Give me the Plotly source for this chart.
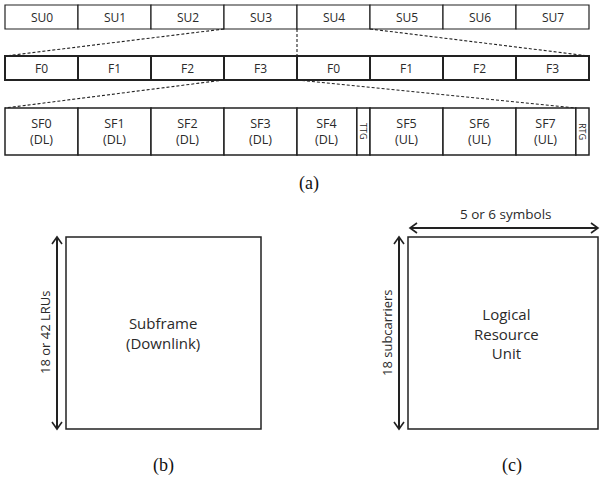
import plotly.graph_objects as go

# ---- content ----
su_labels = ["SU0", "SU1", "SU2", "SU3", "SU4", "SU5", "SU6", "SU7"]
frame_labels = ["F0", "F1", "F2", "F3", "F0", "F1", "F2", "F3"]
sf_labels = ["SF0<br>(DL)", "SF1<br>(DL)", "SF2<br>(DL)", "SF3<br>(DL)", "SF4<br>(DL)", "TTG",
             "SF5<br>(UL)", "SF6<br>(UL)", "SF7<br>(UL)", "RTG"]
sf_units = [1, 1, 1, 1, 0.82, 0.18, 1, 1, 0.82, 0.18]   # relative widths of subframe cells
gap_labels = ["TTG", "RTG"]
panel_b_text = "Subframe<br>(Downlink)"
panel_b_dim = "18 or 42 LRUs"
panel_c_text = "Logical<br>Resource<br>Unit"
panel_c_vdim = "18 subcarriers"
panel_c_hdim = "5 or 6 symbols"
captions = ["(a)", "(b)", "(c)"]

W, H = 600, 484
X0, CELL = 5, 73
LINE = "#222222"
FONT = "Open Sans"
TXT = "#2a2a2a"

fig = go.Figure()
shapes = []
ann = []

def row(labels, widths, y0, y1, lw, fsize):
    x = X0
    bounds = []
    for lab, w in zip(labels, widths):
        xa, xb = x, x + w * CELL
        shapes.append(dict(type="rect", x0=xa, x1=xb, y0=y0, y1=y1,
                           line=dict(color=LINE, width=lw), fillcolor="white", layer="below"))
        if lab in gap_labels:
            ann.append(dict(x=(xa + xb) / 2, y=(y0 + y1) / 2, text=lab, showarrow=False,
                            textangle=90, font=dict(size=9, family=FONT, color=TXT)))
        else:
            ann.append(dict(x=(xa + xb) / 2, y=(y0 + y1) / 2, text=lab, showarrow=False,
                            font=dict(size=fsize, family=FONT, color=TXT)))
        bounds.append((xa, xb))
        x = xb
    return bounds

b1 = row(su_labels, [1] * 8, 5, 29, 1.2, 12)
b2 = row(frame_labels, [1] * 8, 56, 80, 2, 12)
b3 = row(sf_labels, sf_units, 108, 155, 1.5, 12.5)

dash = dict(color=LINE, width=1.1, dash="3px,2px")
# SU3-SU4 expand into frames row
shapes.append(dict(type="line", x0=b1[3][0], y0=29, x1=b2[0][0], y1=56, line=dash))
shapes.append(dict(type="line", x0=b1[3][1], y0=29, x1=b1[3][1], y1=56, line=dash))
shapes.append(dict(type="line", x0=b1[4][1], y0=29, x1=b2[7][1], y1=56, line=dash))
# F3 expands into subframe row
shapes.append(dict(type="line", x0=b2[3][0], y0=80, x1=b3[0][0], y1=108, line=dash))
shapes.append(dict(type="line", x0=b2[3][1], y0=80, x1=b3[9][0], y1=108, line=dash))

# panel boxes
shapes.append(dict(type="rect", x0=66, x1=261, y0=237, y1=429, line=dict(color=LINE, width=1.5)))
shapes.append(dict(type="rect", x0=408, x1=598, y0=237, y1=429, line=dict(color=LINE, width=1.5)))

def varrow(x, ya, yb):
    fig.add_trace(go.Scatter(x=[x, x], y=[ya, yb], mode="lines",
                             line=dict(color=LINE, width=2), hoverinfo="skip"))
    for yt, s in ((ya, 1), (yb, -1)):
        fig.add_trace(go.Scatter(x=[x - 5, x, x + 5], y=[yt + 7 * s, yt, yt + 7 * s], mode="lines",
                                 line=dict(color=LINE, width=1.6), hoverinfo="skip"))

def harrow(y, xa, xb):
    fig.add_trace(go.Scatter(x=[xa, xb], y=[y, y], mode="lines",
                             line=dict(color=LINE, width=2), hoverinfo="skip"))
    for xt, s in ((xa, 1), (xb, -1)):
        fig.add_trace(go.Scatter(x=[xt + 7 * s, xt, xt + 7 * s], y=[y - 5, y, y + 5], mode="lines",
                                 line=dict(color=LINE, width=1.6), hoverinfo="skip"))

varrow(57, 237, 429)
varrow(399, 237, 429)
harrow(228, 410, 598)

ann.append(dict(x=163, y=333, text=panel_b_text, showarrow=False,
                font=dict(size=15, family=FONT, color=TXT)))
ann.append(dict(x=45, y=333, text=panel_b_dim, showarrow=False, textangle=-90,
                font=dict(size=13, family=FONT, color=TXT)))
ann.append(dict(x=506, y=333, text=panel_c_text, showarrow=False,
                font=dict(size=15, family=FONT, color=TXT)))
ann.append(dict(x=387, y=333, text=panel_c_vdim, showarrow=False, textangle=-90,
                font=dict(size=13, family=FONT, color=TXT)))
ann.append(dict(x=506, y=214, text=panel_c_hdim, showarrow=False,
                font=dict(size=13.5, family=FONT, color=TXT)))

for cap, (cx, cy) in zip(captions, [(309, 183), (163, 465), (512, 465)]):
    ann.append(dict(x=cx, y=cy, text=cap, showarrow=False,
                    font=dict(size=18, family="Liberation Serif", color="#111")))

fig.update_layout(
    width=W, height=H, margin=dict(l=0, r=0, t=0, b=0),
    paper_bgcolor="white", plot_bgcolor="white", showlegend=False,
    shapes=shapes, annotations=ann,
    xaxis=dict(range=[0, W], visible=False, fixedrange=True),
    yaxis=dict(range=[H, 0], visible=False, fixedrange=True),
)
fig.write_html("out.html", config={"displayModeBar": False},
               post_script="document.body.style.margin='0';document.body.style.overflow='hidden';")
